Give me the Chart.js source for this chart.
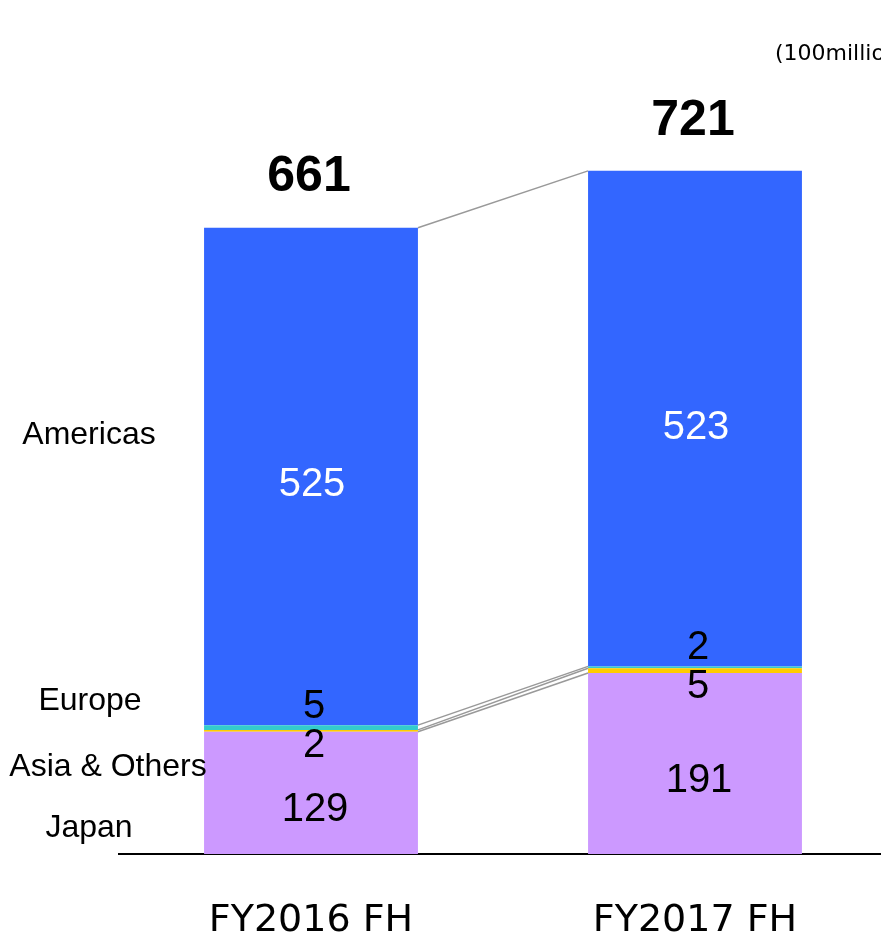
<!DOCTYPE html>
<html>
<head>
<meta charset="utf-8">
<script src="https://cdn.jsdelivr.net/npm/chart.js@4/dist/chart.umd.min.js"></script>
<style>
html,body{margin:0;padding:0;overflow:hidden;background:#fff;}
#wrap{position:absolute;left:0;top:0;width:900px;height:942px;}
</style>
</head>
<body>
<div id="wrap"><canvas id="c" width="900" height="942"></canvas></div>
<script>
const categories = ["FY2016 FH", "FY2017 FH"];
const seriesNames = ["Japan", "Asia & Others", "Europe", "Americas"];
const japan = [129, 191];
const asiaOthers = [2, 5];
const europe = [5, 2];
const americas = [525, 523];
const totals = [661, 721];
const unitLabel = "(100million yen)";

const colors = ["#CC99FF", "#FFCC00", "#33CCCC", "#3366FF"];
const values = [japan, asiaOthers, europe, americas];

const labelPlugin = {
  id: 'labels',
  afterDatasetsDraw(chart) {
    const ctx = chart.ctx;
    const metas = [0,1,2,3].map(i => chart.getDatasetMeta(i));
    // series connector lines
    ctx.save();
    ctx.strokeStyle = '#999999';
    ctx.lineWidth = 1.5;
    for (let i = 0; i < 4; i++) {
      const a = metas[i].data[0], b = metas[i].data[1];
      ctx.beginPath();
      ctx.moveTo(a.x + a.width / 2, a.y);
      ctx.lineTo(b.x - b.width / 2, b.y);
      ctx.stroke();
    }
    ctx.restore();

    ctx.save();
    ctx.textAlign = 'center';
    ctx.textBaseline = 'middle';
    for (let j = 0; j < categories.length; j++) {
      // Japan
      let el = metas[0].data[j];
      ctx.font = '40px "Liberation Sans", Arial, sans-serif';
      ctx.fillStyle = '#000';
      ctx.fillText(String(japan[j]), el.x + 4, (el.y + el.base) / 2 + 17);
      // Asia & Others: below its segment
      el = metas[1].data[j];
      ctx.fillText(String(asiaOthers[j]), el.x + 3, el.base + 14);
      // Europe: above its segment
      el = metas[2].data[j];
      ctx.fillText(String(europe[j]), el.x + 3, el.y - 18);
      // Americas
      el = metas[3].data[j];
      ctx.fillStyle = '#fff';
      ctx.fillText(String(americas[j]), el.x + 1, (el.y + el.base) / 2 + 9);
      // total
      ctx.fillStyle = '#000';
      ctx.font = 'bold 50px "Liberation Sans", Arial, sans-serif';
      ctx.fillText(String(totals[j]), el.x - 2, el.y - 50);
      // category label
      ctx.font = '38px "DejaVu Sans", Verdana, sans-serif';
      ctx.fillText(categories[j], chart.scales.x.getPixelForValue(j), 921);
    }
    // series names on the left
    ctx.font = '32px "Liberation Sans", Arial, sans-serif';
    ctx.fillStyle = '#000';
    const namePos = [[89, 828], [108, 767], [90, 701], [89, 435]];
    for (let i = 0; i < 4; i++) {
      ctx.fillText(seriesNames[i], namePos[i][0], namePos[i][1]);
    }
    // unit label
    ctx.textAlign = 'left';
    ctx.font = '22px "DejaVu Sans", Verdana, sans-serif';
    ctx.fillText(unitLabel, 775, 54);
    ctx.restore();
  }
};

new Chart(document.getElementById('c'), {
  type: 'bar',
  data: {
    labels: categories,
    datasets: values.map((v, i) => ({
      label: seriesNames[i],
      data: v,
      backgroundColor: colors[i],
      borderWidth: 0,
      categoryPercentage: 1,
      barPercentage: 0.557
    }))
  },
  options: {
    responsive: false,
    animation: false,
    events: [],
    layout: { padding: { left: 119, right: 13, top: 96, bottom: 80 } },
    plugins: { legend: { display: false }, tooltip: { enabled: false } },
    scales: {
      x: {
        stacked: true,
        offset: true,
        grid: { display: false },
        ticks: { display: false },
        border: { display: true, color: '#000', width: 2 }
      },
      y: {
        stacked: true,
        display: false,
        min: 0,
        max: 800
      }
    }
  },
  plugins: [labelPlugin]
});
</script>
</body>
</html>
